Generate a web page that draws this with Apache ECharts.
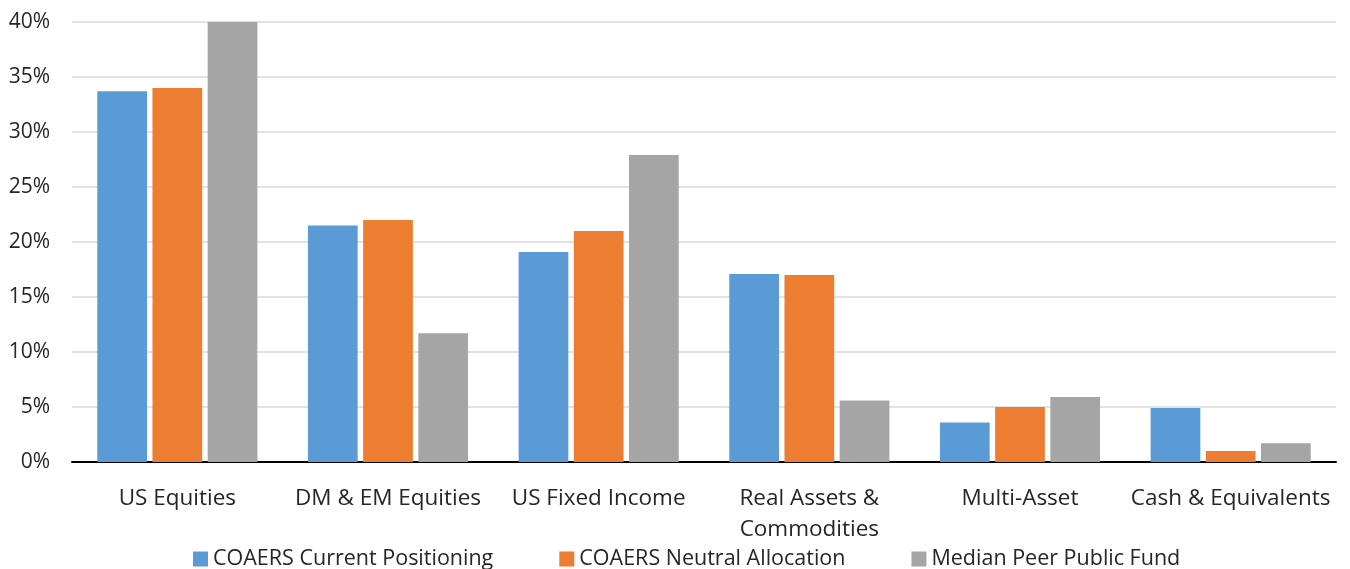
<!DOCTYPE html>
<html>
<head>
<meta charset="utf-8">
<script src="https://cdn.jsdelivr.net/npm/echarts@6/dist/echarts.min.js"></script>
<style>
  html, body { margin: 0; padding: 0; background: #fff; }
  #chart { width: 1350px; height: 569px; }
</style>
</head>
<body>
<div id="chart"></div>
<script>
// asset classes on the x axis
var categories = ['US Equities', 'DM & EM Equities', 'US Fixed Income',
  'Real Assets &\nCommodities', 'Multi-Asset', 'Cash & Equivalents'];

// allocation in percent
var currentPositioning = [33.7, 21.5, 19.1, 17.1, 3.6, 4.9];
var neutralAllocation = [34.0, 22.0, 21.0, 17.0, 5.0, 1.0];
var medianPeer = [40.0, 11.7, 27.9, 5.6, 5.9, 1.7];

var seriesNames = ['COAERS Current Positioning', 'COAERS Neutral Allocation', 'Median Peer Public Fund'];
var colors = ['#5b9bd5', '#ed7d31', '#a5a5a5'];

var chart = echarts.init(document.getElementById('chart'));
var font = 'Open Sans';

function bar(name, data, i) {
  return {
    name: name,
    type: 'bar',
    data: data,
    barGap: '11%',
    barCategoryGap: '24%',
    itemStyle: { color: colors[i] }
  };
}

chart.setOption({
  animation: false,
  textStyle: { fontFamily: font },
  grid: { left: 72, right: 14, top: 22, bottom: 107 },
  legend: {
    bottom: -6,
    left: 188,
    itemWidth: 15,
    itemHeight: 15,
    itemGap: 66,
    icon: 'rect',
    textStyle: { fontSize: 21.5, color: '#262626', fontFamily: font },
    data: seriesNames
  },
  xAxis: {
    type: 'category',
    data: categories,
    axisLine: { lineStyle: { color: '#000', width: 2 } },
    axisTick: { show: false },
    axisLabel: { fontSize: 22.5, color: '#262626', margin: 21, lineHeight: 31, interval: 0 }
  },
  yAxis: {
    type: 'value',
    min: 0,
    max: 40,
    interval: 5,
    axisLine: { show: false },
    axisTick: { show: false },
    splitLine: { lineStyle: { color: '#d9d9d9', width: 1.5 } },
    axisLabel: { fontSize: 21, color: '#262626', margin: 22, formatter: '{value}%' }
  },
  series: [
    bar(seriesNames[0], currentPositioning, 0),
    bar(seriesNames[1], neutralAllocation, 1),
    bar(seriesNames[2], medianPeer, 2)
  ]
});
</script>
</body>
</html>
